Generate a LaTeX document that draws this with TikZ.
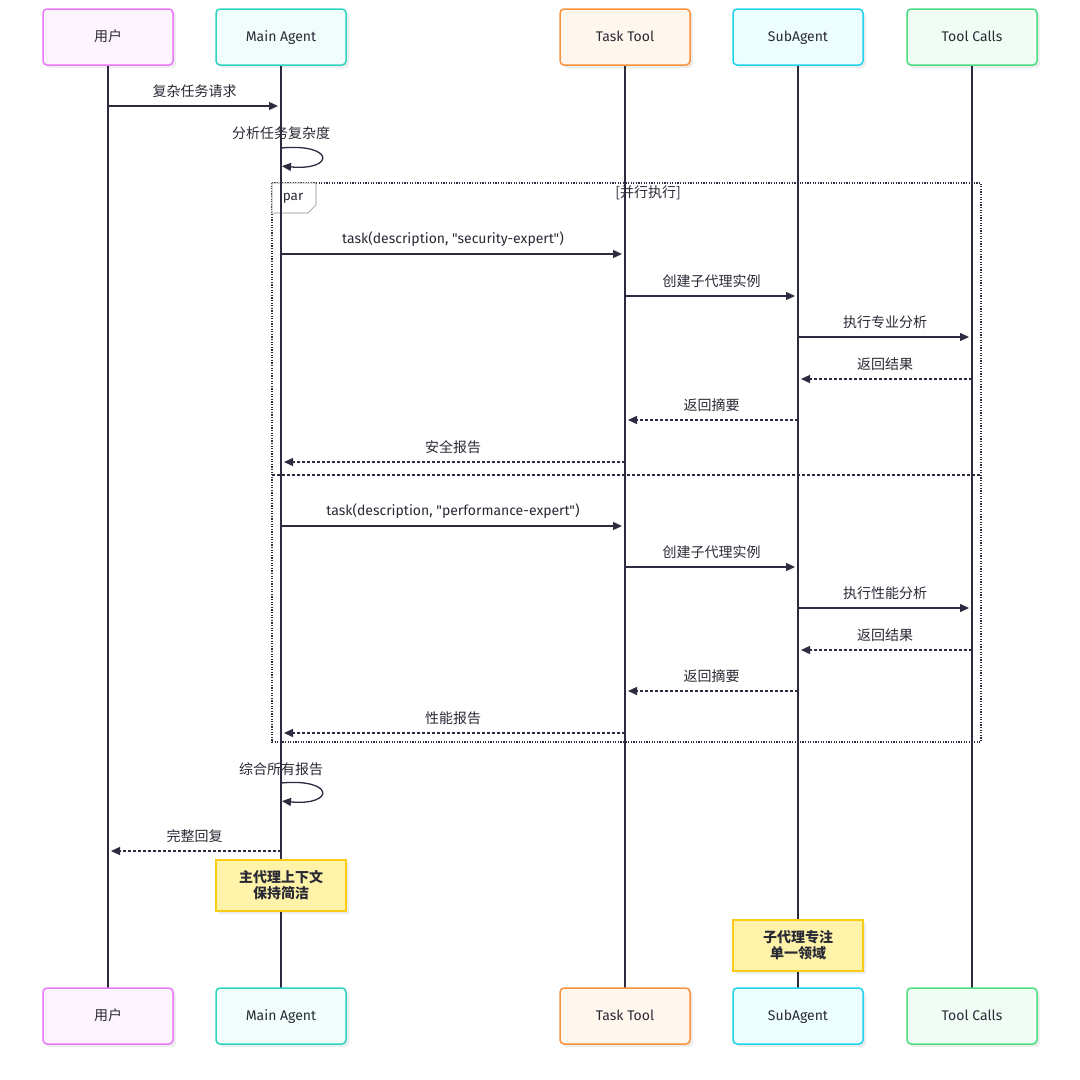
\documentclass[tikz,border=0pt]{standalone}
\usepackage{fontspec}
\setmainfont{Noto Sans CJK SC}
\newfontfamily\lat{Fira Sans}
\usetikzlibrary{arrows.meta,calc,shadows}
\definecolor{ln}{HTML}{2E2B40}
\definecolor{txt}{HTML}{2A2A36}
\definecolor{uB}{HTML}{E879F9}\definecolor{uF}{HTML}{FDF4FF}
\definecolor{mB}{HTML}{2DD4BF}\definecolor{mF}{HTML}{F0FDFA}
\definecolor{tB}{HTML}{FB923C}\definecolor{tF}{HTML}{FFF7ED}
\definecolor{sB}{HTML}{22D3EE}\definecolor{sF}{HTML}{ECFEFF}
\definecolor{cB}{HTML}{4ADE80}\definecolor{cF}{HTML}{F0FDF4}
\definecolor{nB}{HTML}{FACC15}\definecolor{nF}{HTML}{FEF3A8}
\tikzset{
  actor/.style={draw=#1, rounded corners=4pt, line width=1.5pt, minimum width=130pt, minimum height=56pt, text=txt, text height=10.5pt, text depth=1pt, drop shadow={shadow xshift=3pt, shadow yshift=-3pt, fill=black, opacity=0.07}},
  latf/.style={font=\fontsize{14}{16}\selectfont\lat},
  life/.style={draw=ln, line width=1.5pt},
  smsg/.style={draw=ln, line width=1.3pt, -{Triangle[length=9pt,width=8pt]}, shorten >=3pt},
  dmsg/.style={smsg, dash pattern=on 3pt off 2pt},
  lbl/.style={text=txt, inner sep=0pt},
  notebox/.style={draw=nB, fill=nF, line width=1.5pt, minimum width=130pt, minimum height=51pt, align=center, font=\fontsize{14}{16}\selectfont\bfseries, text=txt, drop shadow={shadow xshift=3pt, shadow yshift=-3pt, fill=black, opacity=0.07}}
}
\newcommand\mymsg[5]{\draw[#5] (#1.center |- 0,#3) -- (#2.center |- 0,#3) node[lbl, midway, yshift=15pt] {#4};}
\begin{document}
\begin{tikzpicture}[x=1pt,y=-1pt, font=\fontsize{14}{16}\selectfont]
\useasboundingbox (0,0) rectangle (1080,1080);
\fill[white] (0,0) rectangle (1080,1080);
% par frame
\draw[ln, line width=1.1pt, dash pattern=on 1.2pt off 1.4pt] (272,183) rectangle (981,742);
\draw[ln, line width=1.1pt, dash pattern=on 3pt off 2pt] (272,475) -- (981,475);
\draw[black!45, fill=white, line width=0.6pt] (272,183) -- (316,183) -- (316,205) -- (308,213) -- (272,213) -- cycle;
\node[lbl, font=\fontsize{13.5}{16}\selectfont\lat] (parl) at (293,198.5) {par};
\node[lbl] (parc) at (648,193) {[并行执行]};
% coordinates for actors
\coordinate (u) at (108,0); \coordinate (m) at (281,0); \coordinate (t) at (625,0); \coordinate (s) at (798,0); \coordinate (c) at (972,0);
% lifelines
\draw[life] (108,65) -- (108,988);
\draw[life] (281,65) -- (281,988);
\draw[life] (625,65) -- (625,988);
\draw[life] (798,65) -- (798,988);
\draw[life] (972,65) -- (972,988);
% actors
\node[actor=uB, fill=uF] (u1) at (108,37) {用户};
\node[actor=mB, fill=mF, latf] (m1) at (281,37) {Main Agent};
\node[actor=tB, fill=tF, latf] (t1) at (625,37) {Task Tool};
\node[actor=sB, fill=sF, latf] (s1) at (798,37) {SubAgent};
\node[actor=cB, fill=cF, latf] (c1) at (972,37) {Tool Calls};
\node[actor=uB, fill=uF] (u2) at (108,1016) {用户};
\node[actor=mB, fill=mF, latf] (m2) at (281,1016) {Main Agent};
\node[actor=tB, fill=tF, latf] (t2) at (625,1016) {Task Tool};
\node[actor=sB, fill=sF, latf] (s2) at (798,1016) {SubAgent};
\node[actor=cB, fill=cF, latf] (c2) at (972,1016) {Tool Calls};
% messages
\mymsg{u}{m}{106}{复杂任务请求}{smsg}
\node[lbl] (l1) at (281,133) {分析任务复杂度};
\draw[smsg, shorten >=1pt] (281,148) .. controls +(54,-5) and +(54,5) .. (281,166);
\mymsg{m}{t}{254}{{\lat task(description, "security-expert")}}{smsg}
\mymsg{t}{s}{296}{创建子代理实例}{smsg}
\mymsg{s}{c}{337}{执行专业分析}{smsg}
\mymsg{c}{s}{379}{返回结果}{dmsg}
\mymsg{s}{t}{420}{返回摘要}{dmsg}
\mymsg{t}{m}{462}{安全报告}{dmsg}
\mymsg{m}{t}{526}{{\lat task(description, "performance-expert")}}{smsg}
\mymsg{t}{s}{567}{创建子代理实例}{smsg}
\mymsg{s}{c}{608}{执行性能分析}{smsg}
\mymsg{c}{s}{650}{返回结果}{dmsg}
\mymsg{s}{t}{691}{返回摘要}{dmsg}
\mymsg{t}{m}{733}{性能报告}{dmsg}
\node[lbl] (l2) at (281,769) {综合所有报告};
\draw[smsg, shorten >=1pt] (281,783) .. controls +(54,-5) and +(54,5) .. (281,801);
\mymsg{m}{u}{851}{完整回复}{dmsg}
% notes
\node[notebox] (n1) at (281,885.5) {主代理上下文\\保持简洁};
\node[notebox] (n2) at (798,945.5) {子代理专注\\单一领域};
\end{tikzpicture}
\end{document}
